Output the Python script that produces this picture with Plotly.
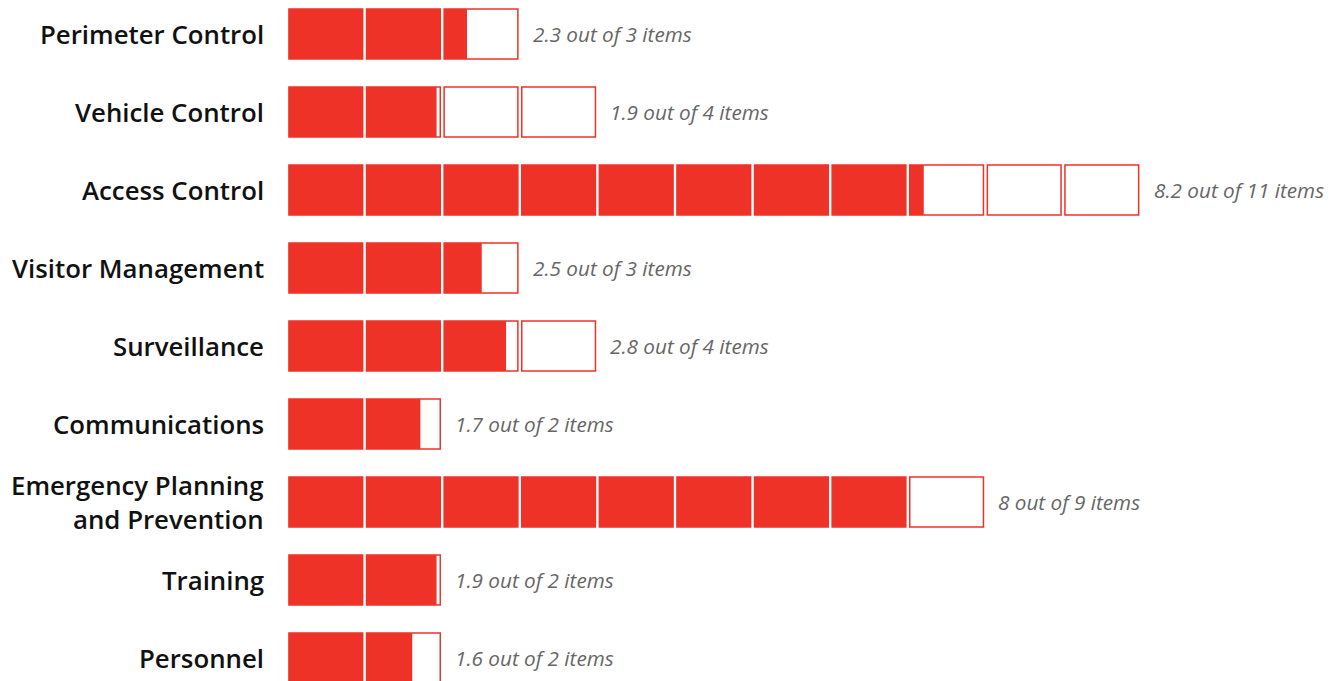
import plotly.graph_objects as go

categories = ["Perimeter Control", "Vehicle Control", "Access Control", "Visitor Management",
              "Surveillance", "Communications", "Emergency Planning<br>and Prevention",
              "Training", "Personnel"]
scores = [2.31, 1.95, 8.19, 2.51, 2.84, 1.73, 8.0, 1.95, 1.62]
score_labels = ["2.3", "1.9", "8.2", "2.5", "2.8", "1.7", "8", "1.9", "1.6"]
totals = [3, 4, 11, 3, 4, 2, 9, 2, 2]

RED = "#EE3228"
GAP = 0.025
step = 78.0
bar_w = 50 / step

ob_base, ob_len, ob_y = [], [], []
fb_base, fb_len, fb_y = [], [], []
for r, (s, n) in enumerate(zip(scores, totals)):
    for i in range(n):
        ob_base.append(i + GAP); ob_len.append(1 - 2 * GAP); ob_y.append(r)
        frac = max(0.0, min(1.0, s - i))
        if frac > 0:
            fb_base.append(i + GAP); fb_len.append(frac * (1 - 2 * GAP)); fb_y.append(r)

fig = go.Figure()
fig.add_trace(go.Bar(orientation="h", x=ob_len, base=ob_base, y=ob_y, width=bar_w,
                     marker=dict(color="white", line=dict(color=RED, width=1.5)),
                     hoverinfo="skip", showlegend=False))
fig.add_trace(go.Bar(orientation="h", x=fb_len, base=fb_base, y=fb_y, width=bar_w,
                     marker=dict(color=RED, line=dict(width=0)),
                     hoverinfo="skip", showlegend=False))

label_font = dict(family="Open Sans", size=25.8, weight=600, color="#111111")
for r, (cat, lab, n) in enumerate(zip(categories, score_labels, totals)):
    fig.add_annotation(x=0, xref="paper", y=r, yref="y", text=cat, showarrow=False,
                       xanchor="right", align="right", xshift=-21,
                       font=label_font)
    fig.add_annotation(x=n, y=r, text=f"<i>{lab} out of {n} items</i>", showarrow=False,
                       xanchor="left", xshift=11,
                       font=dict(family="Open Sans", size=20.7, color="#666666"))

unit_px = 77.6
left = 279
plot_w = 1341 - left
row0 = 26
fig.update_layout(
    width=1341, height=681, barmode="overlay",
    margin=dict(l=left, r=0, t=0, b=0),
    paper_bgcolor="white", plot_bgcolor="white",
    xaxis=dict(range=[0, plot_w / unit_px], visible=False, fixedrange=True),
    yaxis=dict(range=[(681 - row0) / step, -row0 / step], visible=False, fixedrange=True),
)
fig.write_html("out.html")
